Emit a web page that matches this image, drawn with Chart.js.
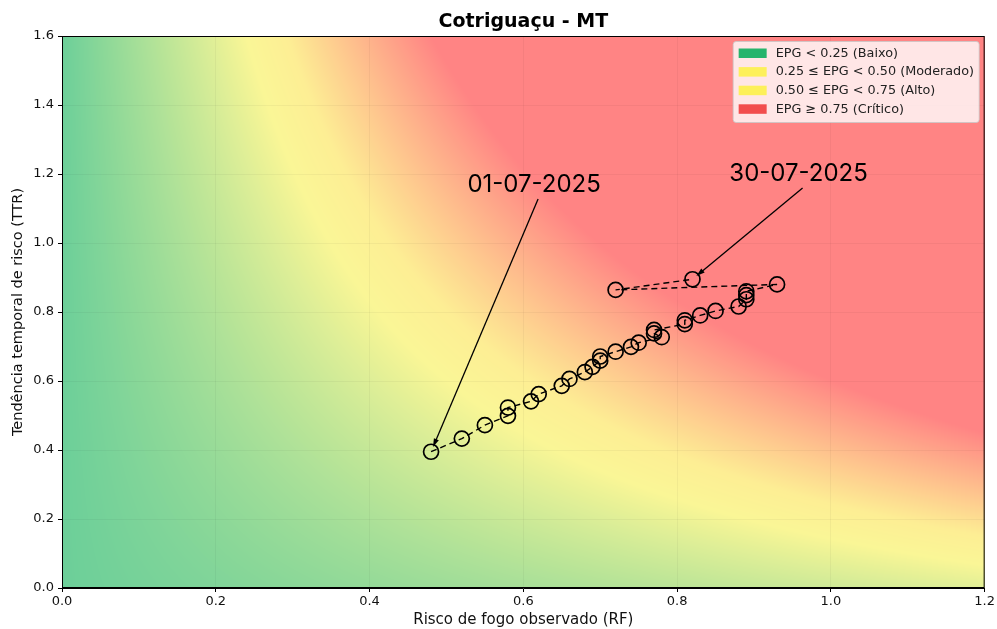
<!DOCTYPE html>
<html>
<head>
<meta charset="utf-8">
<script src="https://cdn.jsdelivr.net/npm/chart.js@4.4.0/dist/chart.umd.min.js"></script>
<style>
    html, body { margin: 0; padding: 0; background: #fff; }
</style>
</head>
<body>
<canvas id="epgChart" width="997" height="629"></canvas>
<script>
// daily points, 01-07-2025 .. 30-07-2025
const dateLabels = [
    '01-07-2025', '02-07-2025', '03-07-2025', '04-07-2025', '05-07-2025',
    '06-07-2025', '07-07-2025', '08-07-2025', '09-07-2025', '10-07-2025',
    '11-07-2025', '12-07-2025', '13-07-2025', '14-07-2025', '15-07-2025',
    '16-07-2025', '17-07-2025', '18-07-2025', '19-07-2025', '20-07-2025',
    '21-07-2025', '22-07-2025', '23-07-2025', '24-07-2025', '25-07-2025',
    '26-07-2025', '27-07-2025', '28-07-2025', '29-07-2025', '30-07-2025'
];
const rfValues = [
    0.48, 0.52, 0.55, 0.58, 0.58, 0.61, 0.62, 0.65, 0.66, 0.68,
    0.69, 0.70, 0.70, 0.72, 0.74, 0.75, 0.78, 0.77, 0.77, 0.81,
    0.81, 0.83, 0.85, 0.88, 0.89, 0.89, 0.89, 0.93, 0.72, 0.82
];
const ttrValues = [
    0.395, 0.433, 0.472, 0.499, 0.523, 0.541, 0.562, 0.586, 0.606, 0.626,
    0.641, 0.659, 0.671, 0.685, 0.699, 0.711, 0.727, 0.738, 0.748, 0.765,
    0.776, 0.790, 0.803, 0.816, 0.837, 0.849, 0.860, 0.880, 0.864, 0.895
];

const xTicks = [0.0, 0.2, 0.4, 0.6, 0.8, 1.0, 1.2];
const yTicks = [0.0, 0.2, 0.4, 0.6, 0.8, 1.0, 1.2, 1.4, 1.6];

const chartTitle = 'Cotrigua\u00e7u - MT';
const legendLabels = [
    'EPG < 0.25 (Baixo)',
    '0.25 \u2264 EPG < 0.50 (Moderado)',
    '0.50 \u2264 EPG < 0.75 (Alto)',
    'EPG \u2265 0.75 (Cr\u00edtico)'
];
const legendColors = ['#26b46c', '#fdf05a', '#fdf05a', '#f24e4e'];

// annotations: text position (data units) and which point the arrow points at
const noteTexts = ['01-07-2025', '30-07-2025'];
const noteX = [0.614, 0.958];
const noteY = [1.168, 1.200];
const noteTarget = [0, 29];

// background colour ramp over the index g = RF * (0.317 + TTR)
const rampStops = [0, 0.46, 0.56, 0.92];
const rampColors = [[108, 207, 153], [250, 246, 150], [253, 238, 148], [255, 132, 132]];

function rampColor(g) {
    if (g <= rampStops[0]) return rampColors[0];
    for (let i = 1; i < rampStops.length; i++) {
        if (g <= rampStops[i]) {
            const t = (g - rampStops[i - 1]) / (rampStops[i] - rampStops[i - 1]);
            const a = rampColors[i - 1], b = rampColors[i];
            return [a[0] + (b[0] - a[0]) * t, a[1] + (b[1] - a[1]) * t, a[2] + (b[2] - a[2]) * t];
        }
    }
    return rampColors[rampColors.length - 1];
}

const heatmapPlugin = {
    id: 'heatmap',
    beforeDraw(chart) {
        const { ctx, chartArea, scales } = chart;
        const w = Math.round(chartArea.right - chartArea.left);
        const h = Math.round(chartArea.bottom - chartArea.top);
        const off = document.createElement('canvas');
        off.width = w;
        off.height = h;
        const octx = off.getContext('2d');
        const img = octx.createImageData(w, h);
        for (let py = 0; py < h; py++) {
            const ttr = scales.y.getValueForPixel(chartArea.top + py + 0.5);
            for (let px = 0; px < w; px++) {
                const rf = scales.x.getValueForPixel(chartArea.left + px + 0.5);
                const c = rampColor(rf * (0.317 + ttr));
                const k = (py * w + px) * 4;
                img.data[k] = c[0];
                img.data[k + 1] = c[1];
                img.data[k + 2] = c[2];
                img.data[k + 3] = 255;
            }
        }
        octx.putImageData(img, 0, 0);
        ctx.drawImage(off, chartArea.left, chartArea.top);
    }
};

function drawArrow(ctx, x1, y1, x2, y2) {
    const ang = Math.atan2(y2 - y1, x2 - x1);
    const head = 9;
    ctx.beginPath();
    ctx.moveTo(x1, y1);
    ctx.lineTo(x2 - Math.cos(ang) * head * 0.8, y2 - Math.sin(ang) * head * 0.8);
    ctx.stroke();
    ctx.beginPath();
    ctx.moveTo(x2, y2);
    ctx.lineTo(x2 - head * Math.cos(ang - 0.3), y2 - head * Math.sin(ang - 0.3));
    ctx.lineTo(x2 - head * Math.cos(ang + 0.3), y2 - head * Math.sin(ang + 0.3));
    ctx.closePath();
    ctx.fill();
}

const overlayPlugin = {
    id: 'overlay',
    afterDatasetsDraw(chart) {
        const { ctx, chartArea, scales } = chart;
        ctx.save();
        // frame
        ctx.strokeStyle = '#000';
        ctx.lineWidth = 1;
        ctx.strokeRect(chartArea.left + 0.5, chartArea.top + 0.5,
            chartArea.right - chartArea.left - 1, chartArea.bottom - chartArea.top - 1);

        // title, centred over the plot area
        ctx.fillStyle = '#000';
        ctx.font = 'bold 19px "DejaVu Sans"';
        ctx.textAlign = 'center';
        ctx.textBaseline = 'middle';
        ctx.fillText(chartTitle, (chartArea.left + chartArea.right) / 2, chartArea.top - 14);

        // annotations
        ctx.strokeStyle = '#000';
        ctx.lineWidth = 1.3;
        ctx.font = '24px Inter';
        noteTexts.forEach((txt, i) => {
            const tx = scales.x.getPixelForValue(noteX[i]);
            const ty = scales.y.getPixelForValue(noteY[i]);
            ctx.fillText(txt, tx, ty);
            const px = scales.x.getPixelForValue(rfValues[noteTarget[i]]);
            const py = scales.y.getPixelForValue(ttrValues[noteTarget[i]]);
            const sx = tx + 4, sy = ty + 14;
            const d = Math.hypot(px - sx, py - sy);
            const ex = px + (sx - px) / d * 5;
            const ey = py + (sy - py) / d * 5;
            drawArrow(ctx, sx, sy, ex, ey);
        });

        // legend
        const lx = chartArea.right - 252, ly = chartArea.top + 5;
        const lw = 246, lh = 81;
        ctx.fillStyle = 'rgba(255,255,255,0.8)';
        ctx.strokeStyle = 'rgba(200,200,200,0.8)';
        ctx.lineWidth = 1;
        ctx.beginPath();
        ctx.roundRect(lx + 0.5, ly + 0.5, lw, lh, 3);
        ctx.fill();
        ctx.stroke();
        ctx.font = '12.8px "DejaVu Sans"';
        ctx.textAlign = 'left';
        legendLabels.forEach((lab, i) => {
            const cy = ly + 12 + i * 18.6;
            ctx.fillStyle = legendColors[i];
            ctx.fillRect(lx + 6, cy - 4.5, 28, 9.5);
            ctx.fillStyle = '#222';
            ctx.fillText(lab, lx + 43, cy + 0.5);
        });
        ctx.restore();
    }
};

const ctx = document.getElementById('epgChart').getContext('2d');
new Chart(ctx, {
    type: 'scatter',
    data: {
        labels: dateLabels,
        datasets: [{
            label: 'EPG',
            data: rfValues.map((rf, i) => ({ x: rf, y: ttrValues[i] })),
            showLine: true,
            borderColor: '#000',
            borderWidth: 1.4,
            borderDash: [6, 4],
            pointRadius: 7.5,
            pointBorderWidth: 1.7,
            pointBorderColor: '#000',
            pointBackgroundColor: 'rgba(0,0,0,0)'
        }]
    },
    options: {
        responsive: false,
        devicePixelRatio: 1,
        animation: false,
        layout: { padding: { left: 0, right: 11, top: 36, bottom: 0 } },
        plugins: {
            legend: { display: false },
            tooltip: { enabled: false },
            title: { display: false }
        },
        scales: {
            x: {
                type: 'linear',
                min: 0,
                max: 1.2,
                afterBuildTicks: (scale) => { scale.ticks = xTicks.map(v => ({ value: v })); },
                afterFit: (scale) => { scale.height = 41; },
                ticks: {
                    color: '#111',
                    padding: 2,
                    font: { family: 'DejaVu Sans', size: 13 },
                    callback: (v) => v.toFixed(1)
                },
                grid: { color: 'rgba(0,0,0,0.04)', tickColor: '#000', tickLength: 4 },
                border: { color: '#000', width: 1 },
                title: {
                    display: true,
                    text: 'Risco de fogo observado (RF)',
                    color: '#111',
                    font: { family: 'DejaVu Sans', size: 15 },
                    padding: { top: 0, bottom: 0 }
                }
            },
            y: {
                type: 'linear',
                min: 0,
                max: 1.6,
                afterBuildTicks: (scale) => { scale.ticks = yTicks.map(v => ({ value: v })); },
                afterFit: (scale) => { scale.width = 62; },
                ticks: {
                    color: '#111',
                    padding: 4,
                    font: { family: 'DejaVu Sans', size: 13 },
                    callback: (v) => v.toFixed(1)
                },
                grid: { color: 'rgba(0,0,0,0.04)', tickColor: '#000', tickLength: 4 },
                border: { color: '#000', width: 1 },
                title: {
                    display: true,
                    text: 'Tend\u00eancia temporal de risco (TTR)',
                    color: '#111',
                    font: { family: 'DejaVu Sans', size: 14.5 },
                    padding: { top: 10, bottom: 0 }
                }
            }
        }
    },
    plugins: [heatmapPlugin, overlayPlugin]
});
</script>
</body>
</html>
